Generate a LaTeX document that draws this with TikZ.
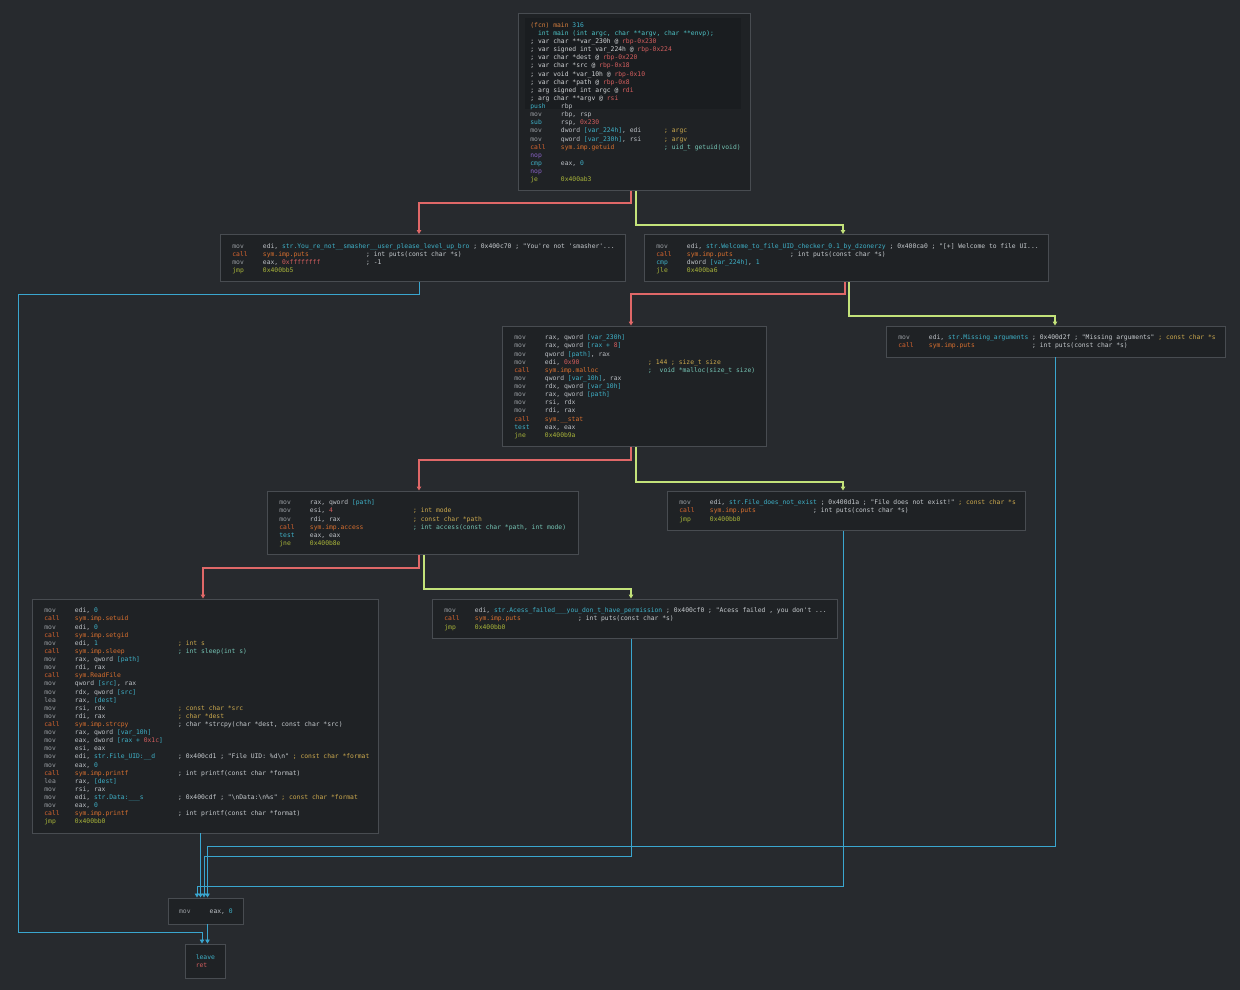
\documentclass[tikz,border=0pt]{standalone}
\usepackage{fontspec}
\setmonofont{DejaVu Sans Mono}
\usetikzlibrary{arrows.meta}
\definecolor{bgc}{HTML}{272A2E}
\definecolor{blkfill}{HTML}{1F2225}
\definecolor{blkline}{HTML}{484C51}
\definecolor{hdrfill}{HTML}{1A1D20}
\definecolor{tmov}{HTML}{9A9EA3}
\definecolor{treg}{HTML}{BDC1C6}
\definecolor{tcyan}{HTML}{3FB2C9}
\definecolor{tcall}{HTML}{D9652F}
\definecolor{tsym}{HTML}{D9702F}
\definecolor{tjmp}{HTML}{A9B53A}
\definecolor{tnop}{HTML}{8B63C9}
\definecolor{tnum}{HTML}{D35E5E}
\definecolor{tcarg}{HTML}{CDAA4E}
\definecolor{tcwht}{HTML}{C8CCD0}
\definecolor{tcteal}{HTML}{76C6B6}
\definecolor{tfcn}{HTML}{D9803F}
\definecolor{thdr}{HTML}{D2D4D6}
\definecolor{tsig}{HTML}{4EC3C6}
\definecolor{ered}{HTML}{E06868}
\definecolor{egreen}{HTML}{C3E27A}
\definecolor{eblue}{HTML}{3AA6CF}
\newlength\cw
\newcommand\codefont{\ttfamily\fontsize{6.35}{8.12}\selectfont\frenchspacing}
\AtBeginDocument{\settowidth{\cw}{\codefont 0}}
\newcommand\Mv[1]{\textcolor{tmov}{#1}}
\newcommand\Mc[1]{\textcolor{tcyan}{#1}}
\newcommand\Mk[1]{\textcolor{tcall}{#1}}
\newcommand\Mj[1]{\textcolor{tjmp}{#1}}
\newcommand\Mn[1]{\textcolor{tnop}{#1}}
\newcommand\Nr[1]{\textcolor{tnum}{#1}}
\newcommand\Nc[1]{\textcolor{tcyan}{#1}}
\newcommand\Sy[1]{\textcolor{tsym}{#1}}
\newcommand\Ca[1]{\textcolor{tcarg}{#1}}
\newcommand\Cw[1]{\textcolor{tcwht}{#1}}
\newcommand\Ct[1]{\textcolor{tcteal}{#1}}
\newcommand\Fc[1]{\textcolor{tfcn}{#1}}
\newcommand\Hd[1]{\textcolor{thdr}{#1}}
\newcommand\Sg[1]{\textcolor{tsig}{#1}}
\newcommand\ins[3]{\makebox[8\cw][l]{#1}\makebox[27\cw][l]{#2}#3}
\newcommand\insl[2]{\makebox[8\cw][l]{#1}#2}
\newcommand\lstrut{\vrule height6.5pt depth1.62pt width0pt\relax}
\newcommand\li[1]{\hbox to\hsize{\lstrut#1\hss}}
\newcommand\codebox[2]{\vbox{\hsize=#1\baselineskip=8.12pt\lineskiplimit=-100pt\lineskip=0pt\relax #2}}
\begin{document}
\begin{tikzpicture}[x=1pt,y=-1pt,
  blk/.style={draw=blkline, fill=blkfill, line width=0.8pt, anchor=north west, inner xsep=12pt, inner ysep=0pt, font=\codefont, text=treg},
  hdr/.style={fill=hdrfill, draw=none, anchor=north west, inner sep=0pt},
  eR/.style={draw=ered, line width=1.5pt, -{Triangle[length=4pt,width=4.5pt]}},
  eG/.style={draw=egreen, line width=1.5pt, -{Triangle[length=4pt,width=4.5pt]}},
  eB/.style={draw=eblue, line width=0.9pt, -{Triangle[length=4pt,width=4.5pt]}}]
\fill[bgc] (0,0) rectangle (1240,990);
\useasboundingbox (0,0) rectangle (1240,990);

% block 0
\node[blk, minimum width=232pt, minimum height=177.3pt] (b0) at (518,13) {};
\node[hdr, minimum width=216pt, minimum height=91pt] (b0h) at (525,18) {};
\node[blk, draw=none, fill=none, minimum height=177.3pt] (b0t) at (518,13) {\codebox{208pt}{%
\li{\Fc{(fcn) main} \Nc{316}}
\li{~~\Sg{int main (int argc, char **argv, char **envp);}}
\li{\Hd{; var char **var\_230h @} \Nr{rbp-0x230}}
\li{\Hd{; var signed int var\_224h @} \Nr{rbp-0x224}}
\li{\Hd{; var char *dest @} \Nr{rbp-0x220}}
\li{\Hd{; var char *src @} \Nr{rbp-0x18}}
\li{\Hd{; var void *var\_10h @} \Nr{rbp-0x10}}
\li{\Hd{; var char *path @} \Nr{rbp-0x8}}
\li{\Hd{; arg signed int argc @} \Nr{rdi}}
\li{\Hd{; arg char **argv @} \Nr{rsi}}
\li{\ins{\Mc{push}}{rbp}{}}
\li{\ins{\Mv{mov}}{rbp, rsp}{}}
\li{\ins{\Mc{sub}}{rsp, \Nr{0x230}}{}}
\li{\ins{\Mv{mov}}{dword \Nc{[var\_224h]}, edi}{\Ca{; argc}}}
\li{\ins{\Mv{mov}}{qword \Nc{[var\_230h]}, rsi}{\Ca{; argv}}}
\li{\ins{\Mk{call}}{\Sy{sym.imp.getuid}}{\Ct{; uid\_t getuid(void)}}}
\li{\ins{\Mn{nop}}{}{}}
\li{\ins{\Mc{cmp}}{eax, \Nc{0}}{}}
\li{\ins{\Mn{nop}}{}{}}
\li{\ins{\Mj{je}}{\Mj{0x400ab3}}{}}
}};

% block 1
\node[blk, minimum height=47.4pt] (b1) at (220,234) {\codebox{381pt}{%
\li{\insl{\Mv{mov}}{edi, \Nc{str.You\_re\_not\_\_smasher\_\_user\_please\_level\_up\_bro} \Cw{; 0x400c70 ; "You're not 'smasher'...}}}
\li{\ins{\Mk{call}}{\Sy{sym.imp.puts}}{\Cw{; int puts(const char *s)}}}
\li{\ins{\Mv{mov}}{eax, \Nr{0xffffffff}}{\Cw{; -1}}}
\li{\ins{\Mj{jmp}}{\Mj{0x400bb5}}{}}
}};

% block 2
\node[blk, minimum height=47.4pt] (b2) at (644,234) {\codebox{380pt}{%
\li{\insl{\Mv{mov}}{edi, \Nc{str.Welcome\_to\_file\_UID\_checker\_0.1\_by\_dzonerzy} \Cw{; 0x400ca0 ; "[+] Welcome to file UI...}}}
\li{\ins{\Mk{call}}{\Sy{sym.imp.puts}}{\Cw{; int puts(const char *s)}}}
\li{\ins{\Mc{cmp}}{dword \Nc{[var\_224h]}, \Nc{1}}{}}
\li{\ins{\Mj{jle}}{\Mj{0x400ba6}}{}}
}};

% block 3
\node[blk, minimum height=120.4pt] (b3) at (502,325.5) {\codebox{240pt}{%
\li{\ins{\Mv{mov}}{rax, qword \Nc{[var\_230h]}}{}}
\li{\ins{\Mv{mov}}{rax, qword \Nc{[rax + }\Nr{8}\Nc{]}}{}}
\li{\ins{\Mv{mov}}{qword \Nc{[path]}, rax}{}}
\li{\ins{\Mv{mov}}{edi, \Nr{0x90}}{\Ca{; 144 ; size\_t size}}}
\li{\ins{\Mk{call}}{\Sy{sym.imp.malloc}}{\Ct{;~~void *malloc(size\_t size)}}}
\li{\ins{\Mv{mov}}{qword \Nc{[var\_10h]}, rax}{}}
\li{\ins{\Mv{mov}}{rdx, qword \Nc{[var\_10h]}}{}}
\li{\ins{\Mv{mov}}{rax, qword \Nc{[path]}}{}}
\li{\ins{\Mv{mov}}{rsi, rdx}{}}
\li{\ins{\Mv{mov}}{rdi, rax}{}}
\li{\ins{\Mk{call}}{\Sy{sym.\_\_stat}}{}}
\li{\ins{\Mc{test}}{eax, eax}{}}
\li{\ins{\Mj{jne}}{\Mj{0x400b9a}}{}}
}};

% block 4
\node[blk, minimum height=31.1pt] (b4) at (886,325.5) {\codebox{315pt}{%
\li{\ins{\Mv{mov}}{edi, \Nc{str.Missing\_arguments}}{\Cw{; 0x400d2f ; "Missing arguments"} \Ca{; const char *s}}}
\li{\ins{\Mk{call}}{\Sy{sym.imp.puts}}{\Cw{; int puts(const char *s)}}}
}};

% block 5
\node[blk, minimum height=63.6pt] (b5) at (267,490.5) {\codebox{287pt}{%
\li{\ins{\Mv{mov}}{rax, qword \Nc{[path]}}{}}
\li{\ins{\Mv{mov}}{esi, \Nr{4}}{\Ca{; int mode}}}
\li{\ins{\Mv{mov}}{rdi, rax}{\Ca{; const char *path}}}
\li{\ins{\Mk{call}}{\Sy{sym.imp.access}}{\Ct{; int access(const char *path, int mode)}}}
\li{\ins{\Mc{test}}{eax, eax}{}}
\li{\ins{\Mj{jne}}{\Mj{0x400b8e}}{}}
}};

% block 6
\node[blk, minimum height=39.2pt] (b6) at (667,490.5) {\codebox{334pt}{%
\li{\insl{\Mv{mov}}{edi, \Nc{str.File\_does\_not\_exist} \Cw{; 0x400d1a ; "File does not exist!"} \Ca{; const char *s}}}
\li{\ins{\Mk{call}}{\Sy{sym.imp.puts}}{\Cw{; int puts(const char *s)}}}
\li{\ins{\Mj{jmp}}{\Mj{0x400bb0}}{}}
}};

% block 7
\node[blk, minimum height=234.1pt] (b7) at (32,598.5) {\codebox{322pt}{%
\li{\ins{\Mv{mov}}{edi, \Nc{0}}{}}
\li{\ins{\Mk{call}}{\Sy{sym.imp.setuid}}{}}
\li{\ins{\Mv{mov}}{edi, \Nc{0}}{}}
\li{\ins{\Mk{call}}{\Sy{sym.imp.setgid}}{}}
\li{\ins{\Mv{mov}}{edi, \Nc{1}}{\Ca{; int s}}}
\li{\ins{\Mk{call}}{\Sy{sym.imp.sleep}}{\Ct{; int sleep(int s)}}}
\li{\ins{\Mv{mov}}{rax, qword \Nc{[path]}}{}}
\li{\ins{\Mv{mov}}{rdi, rax}{}}
\li{\ins{\Mk{call}}{\Sy{sym.ReadFile}}{}}
\li{\ins{\Mv{mov}}{qword \Nc{[src]}, rax}{}}
\li{\ins{\Mv{mov}}{rdx, qword \Nc{[src]}}{}}
\li{\ins{\Mv{lea}}{rax, \Nc{[dest]}}{}}
\li{\ins{\Mv{mov}}{rsi, rdx}{\Ca{; const char *src}}}
\li{\ins{\Mv{mov}}{rdi, rax}{\Ca{; char *dest}}}
\li{\ins{\Mk{call}}{\Sy{sym.imp.strcpy}}{\Cw{; char *strcpy(char *dest, const char *src)}}}
\li{\ins{\Mv{mov}}{rax, qword \Nc{[var\_10h]}}{}}
\li{\ins{\Mv{mov}}{eax, dword \Nc{[rax + }\Nr{0x1c}\Nc{]}}{}}
\li{\ins{\Mv{mov}}{esi, eax}{}}
\li{\ins{\Mv{mov}}{edi, \Nc{str.File\_UID:\_\_d}}{\Cw{; 0x400cd1 ; "File UID: \%d\textbackslash n"} \Ca{; const char *format}}}
\li{\ins{\Mv{mov}}{eax, \Nc{0}}{}}
\li{\ins{\Mk{call}}{\Sy{sym.imp.printf}}{\Cw{; int printf(const char *format)}}}
\li{\ins{\Mv{lea}}{rax, \Nc{[dest]}}{}}
\li{\ins{\Mv{mov}}{rsi, rax}{}}
\li{\ins{\Mv{mov}}{edi, \Nc{str.Data:\_\_\_s}}{\Cw{; 0x400cdf ; "\textbackslash nData:\textbackslash n\%s"} \Ca{; const char *format}}}
\li{\ins{\Mv{mov}}{eax, \Nc{0}}{}}
\li{\ins{\Mk{call}}{\Sy{sym.imp.printf}}{\Cw{; int printf(const char *format)}}}
\li{\ins{\Mj{jmp}}{\Mj{0x400bb0}}{}}
}};

% block 8
\node[blk, minimum height=39.2pt] (b8) at (432,598.5) {\codebox{381pt}{%
\li{\insl{\Mv{mov}}{edi, \Nc{str.Acess\_failed\_\_\_you\_don\_t\_have\_permission} \Cw{; 0x400cf0 ; "Acess failed , you don't ...}}}
\li{\ins{\Mk{call}}{\Sy{sym.imp.puts}}{\Cw{; int puts(const char *s)}}}
\li{\ins{\Mj{jmp}}{\Mj{0x400bb0}}{}}
}};

% block 9
\node[blk, inner xsep=10.75pt, minimum height=26pt] (b9) at (168,897.5) {\codebox{53.5pt}{%
\li{\Mv{mov}~~~~~eax, \Nc{0}}
}};

% block 10
\node[blk, inner xsep=10.4pt, minimum height=34pt] (b10) at (185,943.5) {\codebox{19.2pt}{%
\li{\Mc{leave}}
\li{\Nr{ret}}
}};

% edges
\draw[eR] (631,0 |- b0.south) |- (419,203) -- (419,0 |- b1.north);
\draw[eG] (636,0 |- b0.south) |- (843,225) -- (843,0 |- b2.north);
\draw[eB] (419,0 |- b1.south) |- (18,294) |- (202,932) -- (202,0 |- b10.north);
\draw[eR] (845,0 |- b2.south) |- (631,294) -- (631,0 |- b3.north);
\draw[eG] (849,0 |- b2.south) |- (1055,316) -- (1055,0 |- b4.north);
\draw[eR] (631,0 |- b3.south) |- (419,460) -- (419,0 |- b5.north);
\draw[eG] (636,0 |- b3.south) |- (843,482) -- (843,0 |- b6.north);
\draw[eR] (419,0 |- b5.south) |- (203,568) -- (203,0 |- b7.north);
\draw[eG] (424,0 |- b5.south) |- (631,589) -- (631,0 |- b8.north);
\draw[eB] (1055,0 |- b4.south) |- (207.5,846) -- (207.5,0 |- b9.north);
\draw[eB] (631,0 |- b8.south) |- (204,856) -- (204,0 |- b9.north);
\draw[eB] (843,0 |- b6.south) |- (197,886) -- (197,0 |- b9.north);
\draw[eB] (200.5,0 |- b7.south) -- (200.5,0 |- b9.north);
\draw[eB] (207.5,0 |- b9.south) -- (207.5,0 |- b10.north);
\end{tikzpicture}
\end{document}
